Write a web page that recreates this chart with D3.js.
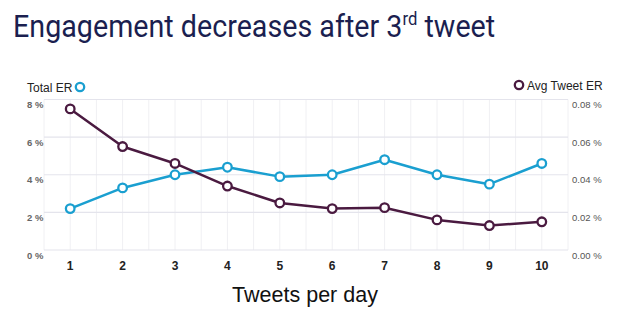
<!DOCTYPE html>
<html><head><meta charset="utf-8">
<script src="https://cdn.jsdelivr.net/npm/d3@7"></script>
<style>body{margin:0;background:#fff}svg{display:block}</style>
</head><body>
<svg id="c" width="622" height="324"></svg>
<script>
const categories = [1,2,3,4,5,6,7,8,9,10];
const totalER = [2.2,3.3,4.0,4.4,3.9,4.0,4.8,4.0,3.5,4.6];
const avgTweetER = [0.075,0.055,0.046,0.034,0.025,0.022,0.0225,0.016,0.013,0.015];
const leftTicks = [0,2,4,6,8];
const rightTicks = [0,0.02,0.04,0.06,0.08];
const title = "Engagement decreases after 3";
const xLabel = "Tweets per day";
const blue = "#1a9fd0", purple = "#4a1a40";

const svg = d3.select("#c");
const L = 44, R = 568, T = 99.5, B = 250;
const x = d3.scaleBand().domain(categories).range([L, R]);
const yL = d3.scaleLinear().domain([0,8]).range([B, T]);
const yR = d3.scaleLinear().domain([0,0.08]).range([B, T]);
const cx = d => x(d) + x.bandwidth()/2;

// title
const t = svg.append("text").attr("transform","translate(13,37) scale(0.925,1)")
  .attr("font-family","Roboto").attr("font-size",31).attr("fill","#1b1f50");
t.append("tspan").text(title);
t.append("tspan").attr("font-size",18).attr("dy",-12).text("rd");
t.append("tspan").attr("dy",12).text(" tweet");

// vertical grid
const vlines = [];
categories.forEach(c => { vlines.push(x(c)); vlines.push(cx(c)); });
vlines.push(R);
svg.append("g").selectAll("line").data(vlines).join("line")
  .attr("x1",d=>d).attr("x2",d=>d).attr("y1",T).attr("y2",B)
  .attr("stroke","#f0f0f3").attr("stroke-width",1);
// horizontal grid
svg.append("g").selectAll("line").data(leftTicks).join("line")
  .attr("x1",L).attr("x2",R).attr("y1",d=>yL(d)).attr("y2",d=>yL(d))
  .attr("stroke","#e4e4ec").attr("stroke-width",1.2);

// left axis labels
const axL = d3.axisLeft(yL).tickValues(leftTicks).tickFormat(d=>d+" %").tickSize(0).tickPadding(0);
const gL = svg.append("g").attr("transform",`translate(27,5)`).call(axL);
gL.select(".domain").remove();
gL.selectAll("text").attr("text-anchor","start").attr("font-family","Liberation Sans, Arial")
  .attr("font-size",9.5).attr("font-weight","bold").attr("fill","#666");
// right axis labels
const axR = d3.axisRight(yR).tickValues(rightTicks).tickFormat(d=>d.toFixed(2)+" %").tickSize(0).tickPadding(0);
const gR = svg.append("g").attr("transform",`translate(572,5)`).call(axR);
gR.select(".domain").remove();
gR.selectAll("text").attr("font-family","Liberation Sans, Arial")
  .attr("font-size",9.5).attr("fill","#555");
// x axis
const axX = d3.axisBottom(x).tickSize(0).tickPadding(0);
const gX = svg.append("g").attr("transform",`translate(0,${B+11})`).call(axX);
gX.select(".domain").remove();
gX.selectAll("text").attr("font-family","Liberation Sans, Arial")
  .attr("font-size",12).attr("font-weight","bold").attr("fill","#222");
svg.append("text").attr("x",305).attr("y",302).attr("text-anchor","middle")
  .attr("font-family","Liberation Sans, Arial").attr("font-size",21.5).attr("fill","#111").text(xLabel);

// series
function series(vals, y, color){
  const line = d3.line().x((d,i)=>cx(categories[i])).y(d=>y(d));
  svg.append("path").datum(vals).attr("d",line).attr("fill","none")
    .attr("stroke",color).attr("stroke-width",2.5).attr("stroke-linejoin","round");
  svg.append("g").selectAll("circle").data(vals).join("circle")
    .attr("cx",(d,i)=>cx(categories[i])).attr("cy",d=>y(d)).attr("r",4.3)
    .attr("fill","#fff").attr("stroke",color).attr("stroke-width",2.3);
}
series(totalER, yL, blue);
series(avgTweetER, yR, purple);

// legends
svg.append("text").attr("x",27).attr("y",91.5).attr("font-family","Liberation Sans, Arial")
  .attr("font-size",12).attr("fill","#222").text("Total ER");
svg.append("circle").attr("cx",80).attr("cy",87).attr("r",4.2).attr("fill","#fff").attr("stroke",blue).attr("stroke-width",2.3);
svg.append("circle").attr("cx",519).attr("cy",85).attr("r",4.2).attr("fill","#fff").attr("stroke",purple).attr("stroke-width",2.3);
svg.append("text").attr("x",527).attr("y",89.5).attr("font-family","Liberation Sans, Arial")
  .attr("font-size",12).attr("fill","#222").text("Avg Tweet ER");
</script>
</body></html>
